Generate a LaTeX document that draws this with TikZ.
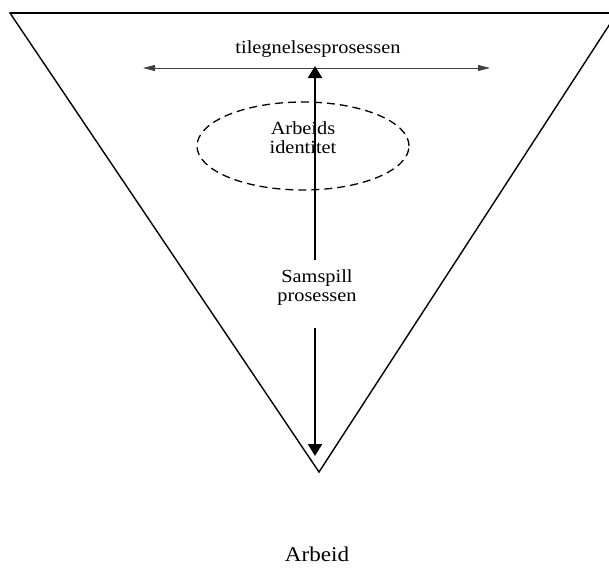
\documentclass[tikz,border=0pt]{standalone}
\usepackage{fontspec}
\setmainfont{Liberation Serif}[FakeStretch=1.1]
\usetikzlibrary{arrows.meta,shapes.geometric}
\tikzset{
  edgeline/.style={line width=1.4pt, line join=miter},
  flowarrow/.style={line width=2.4pt, -{Triangle[length=12pt,width=14pt]}},
  spanarrow/.style={line width=0.8pt, draw=black!75, {Triangle[length=12pt,width=6pt]}-{Triangle[length=12pt,width=6pt]}},
  ring/.style={draw, ellipse, dashed, dash pattern=on 8pt off 5pt, line width=1.3pt, minimum width=212pt, minimum height=88pt, inner sep=0pt},
  smalltext/.style={font=\fontsize{18.5}{19}\selectfont, align=center, inner sep=0pt},
  bigtext/.style={font=\fontsize{21}{22}\selectfont, inner sep=0pt}
}
\begin{document}
\begin{tikzpicture}[x=1pt,y=-1pt]
  \useasboundingbox (0,0) rectangle (609,574);
  \begin{scope}
    \clip (0,0) rectangle (609,574);
    % inverted triangle, heavier top edge
    \draw[edgeline] (10,13) -- (617,13) -- (319,472) -- cycle;
    \draw[line width=1.9pt] (10,13) -- (617,13);
  \end{scope}

  % horizontal process arrow and its label
  \coordinate (hleft) at (143,68);
  \coordinate (hright) at (490,68);
  \draw[spanarrow] (hleft) -- (hright);
  \node[smalltext, anchor=base] (tileg) at (318,53) {tilegnelsesprosessen};

  % dashed identity ring
  \node[ring] (ring) at (303,146) {};
  \node[smalltext, anchor=base] (ident) at (303,153) {Arbeids\\identitet};

  % vertical interaction arrows
  \coordinate (vtop) at (315,66);
  \coordinate (vupper) at (315,260);
  \coordinate (vlower) at (315,328);
  \coordinate (vbot) at (315,456);
  \draw[flowarrow] (vupper) -- (vtop);
  \draw[flowarrow] (vlower) -- (vbot);
  \node[smalltext, anchor=base] (samspill) at (317,301) {Samspill\\prosessen};

  % bottom caption
  \node[bigtext, anchor=base] (arbeid) at (317,561) {Arbeid};
\end{tikzpicture}
\end{document}
